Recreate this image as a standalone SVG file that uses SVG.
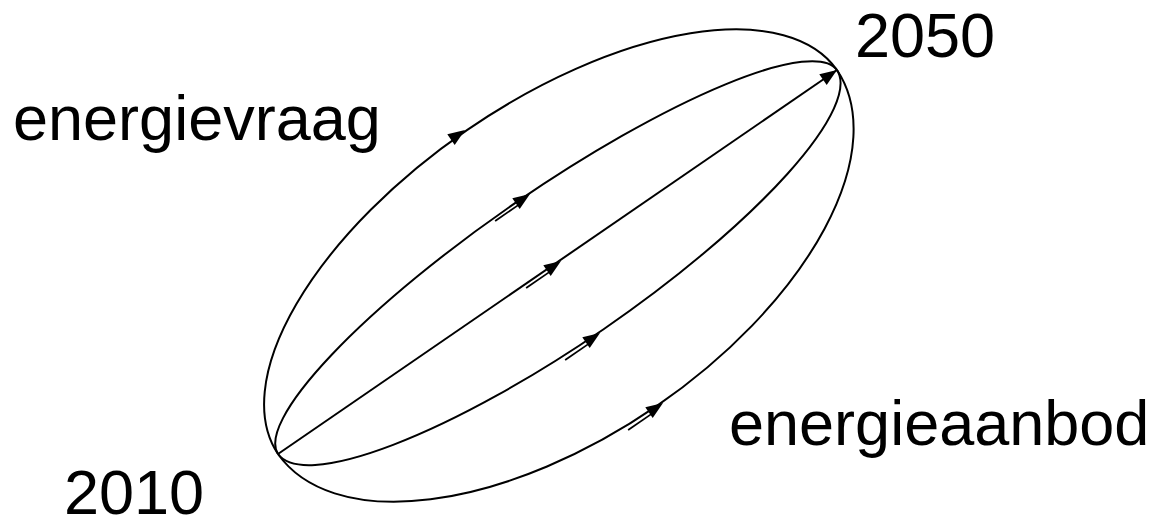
<svg xmlns="http://www.w3.org/2000/svg" width="1160" height="517" viewBox="0 0 1160 517">
<style>
.c{fill:none;stroke:#000;stroke-width:2}
.t{font-family:"Liberation Sans",Arial,sans-serif;font-size:63px;fill:#000}
.h{fill:#000;stroke:none}
.s{stroke:#000;stroke-width:1.8;fill:none}
</style>
<defs>
<path id="head" class="h" d="M0,0 L-17,-6.5 L-17,6.5 Z"/>
<g id="arr">
<use href="#head"/>
<line class="s" x1="-16" y1="2.5" x2="-44" y2="2.5"/>
</g>
</defs>
<rect width="1160" height="517" fill="#fff"/>
<g id="connectors">
<path id="outer-upper" class="c" d="M278,454 A339.1,161 -34.49 0 1 837,70"/>
<path id="inner-upper" class="c" d="M278,454 A339.1,73 -34.49 0 1 837,70"/>
<path id="middle" class="c" d="M278,454 L837,70"/>
<path id="inner-lower" class="c" d="M278,454 A339.1,82 -34.49 0 0 837,70"/>
<path id="outer-lower" class="c" d="M278,454 A339.1,176 -34.49 0 0 837,70"/>
<use href="#head" transform="translate(465,130) rotate(-34.49)"/>
<use href="#arr" transform="translate(530,194) rotate(-34.49)"/>
<use href="#arr" transform="translate(561,261) rotate(-34.49)"/>
<use href="#arr" transform="translate(600,333) rotate(-34.49)"/>
<use href="#arr" transform="translate(663,403) rotate(-34.49)"/>
<use href="#head" transform="translate(837,70) rotate(-34.49)"/>
</g>
<g id="label-energievraag"><text class="t" x="13" y="140">energievraag</text></g>
<g id="label-2050"><text class="t" x="855" y="57">2050</text></g>
<g id="label-2010"><text class="t" x="64" y="514">2010</text></g>
<g id="label-energieaanbod"><text class="t" x="729" y="445">energieaanbod</text></g>
</svg>
